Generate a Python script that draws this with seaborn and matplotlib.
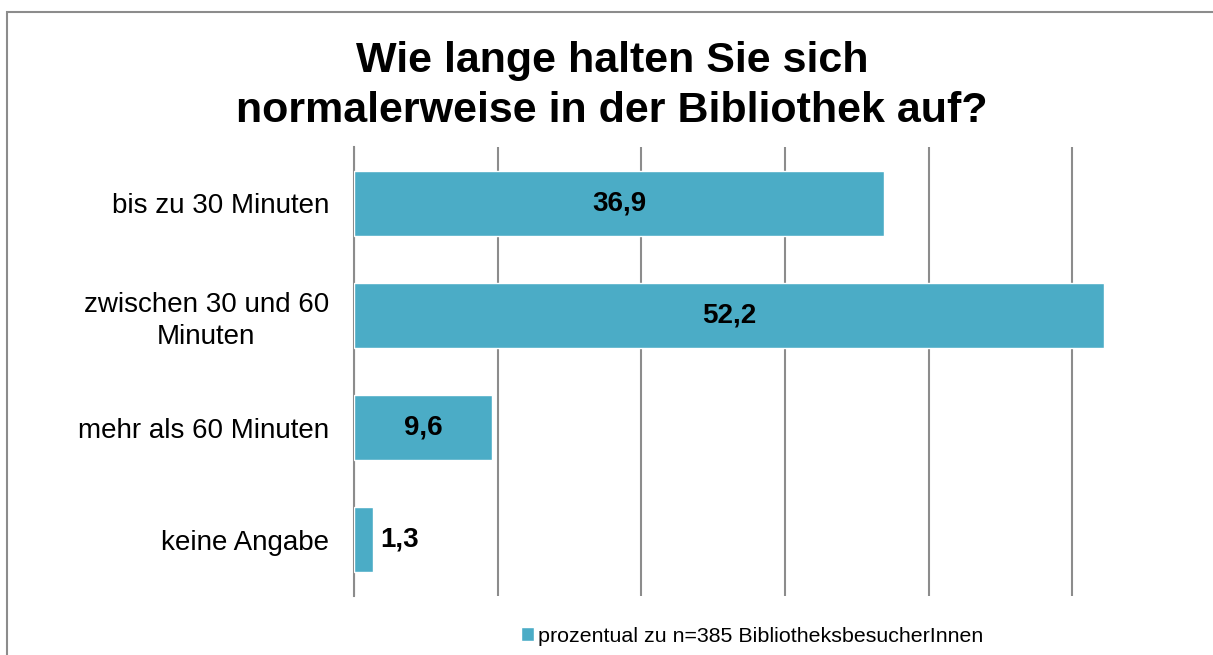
import matplotlib
matplotlib.use("Agg")
import matplotlib.pyplot as plt
import seaborn as sns
import pandas as pd
from matplotlib.patches import Rectangle

# Data
categories = ["bis zu 30 Minuten", "zwischen 30 und 60\nMinuten",
              "mehr als 60 Minuten", "keine Angabe"]
values = [36.9, 52.2, 9.6, 1.3]
labels = ["36,9", "52,2", "9,6", "1,3"]
series_name = "prozentual zu n=385 BibliotheksbesucherInnen"
title = "Wie lange halten Sie sich\nnormalerweise in der Bibliothek auf?"

df = pd.DataFrame({"Kategorie": categories, "Wert": values, "Serie": series_name})

sns.set_style("white")
plt.rcParams['font.family'] = ['Liberation Sans', 'DejaVu Sans']
plt.rcParams['text.color'] = 'black'
plt.rcParams['ytick.color'] = 'black'
plt.rcParams['xtick.color'] = 'black'
plt.rcParams['axes.labelcolor'] = 'black'

bar_color = "#4BACC6"
grid_color = "#8c8c8c"

fig = plt.figure(figsize=(12.13, 6.55), dpi=100)
W, H = 1213, 655
ax = fig.add_axes([354 / W, 1 - 596 / H, (1144 - 354) / W, (596 - 147) / H])

sns.barplot(data=df, y="Kategorie", x="Wert", hue="Serie", palette=[bar_color],
            orient="h", width=0.58, ax=ax, zorder=3, saturation=1)

ax.set_xlim(0, 55)
ax.set_ylim(3.5, -0.5)
ax.set_xticks([0, 10, 20, 30, 40, 50])
ax.set_xticklabels([])
ax.tick_params(axis="both", length=0)
ax.grid(axis="x", color=grid_color, linewidth=1.5, zorder=0)
ax.grid(axis="y", visible=False)
for side in ["top", "right", "bottom"]:
    ax.spines[side].set_visible(False)
ax.spines["left"].set_color(grid_color)
ax.spines["left"].set_linewidth(1.5)
ax.set_xlabel("")
ax.set_ylabel("")

ax.tick_params(axis="y", labelsize=20, pad=18, labelcolor="black")
for t in ax.get_yticklabels():
    t.set_multialignment("center")
    t.set_linespacing(1.3)

for i, (v, lab) in enumerate(zip(values, labels)):
    if v > 5:
        ax.text(v / 2, i, lab, ha="center", va="center", fontsize=20,
                fontweight="bold", color="black", zorder=4)
    else:
        ax.text(v + 0.55, i, lab, ha="left", va="center", fontsize=20,
                fontweight="bold", color="black", zorder=4)

fig.text(612 / W, 1 - 86 / H, title, ha="center", va="center", fontsize=31,
         fontweight="bold", linespacing=1.3, color="black")

leg = ax.legend(loc="center", bbox_to_anchor=(752 / W, 1 - 636 / H),
                bbox_transform=fig.transFigure, frameon=False, fontsize=15.4,
                handlelength=0.6, handleheight=0.6, handletextpad=0.2,
                borderpad=0)
for t in leg.get_texts():
    t.set_color("black")

# outer border of the chart area
fig.patches.append(Rectangle((7 / W, -0.1), 1.2, 1 - 12.5 / H + 0.1,
                             transform=fig.transFigure, fill=False,
                             edgecolor="#8c8c8c", linewidth=1.5))

fig.savefig("out.png", dpi=100)
